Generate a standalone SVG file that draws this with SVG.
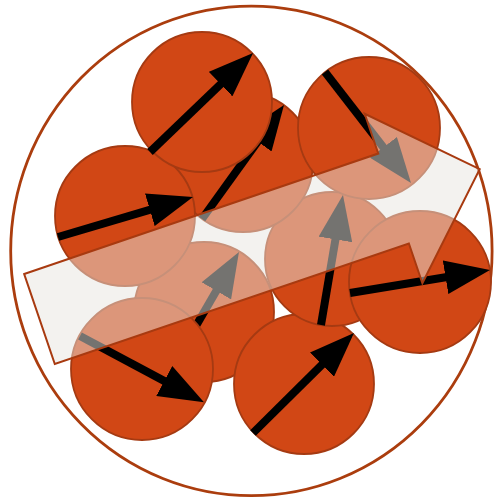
<svg xmlns="http://www.w3.org/2000/svg" width="496" height="499" viewBox="0 0 496 499">
<defs>
<marker id="head" markerUnits="userSpaceOnUse" viewBox="0 0 45 34" markerWidth="45" markerHeight="34" refX="20" refY="17" orient="auto">
<path d="M0,0 L45,17 L0,34 z" fill="#000"/>
</marker>
</defs>
<style>
.ball{fill:#d14715;stroke:#a53a12;stroke-width:1.8}
.arr{stroke:#000;stroke-width:8;fill:none}
.outer{fill:#fff;stroke:#ab3d0e;stroke-width:2.8}
.band{fill:#e8e6e0;fill-opacity:0.5;stroke:#a83a10;stroke-width:2;stroke-linejoin:miter}
</style>
<rect width="496" height="499" fill="#fff"/>
<ellipse class="outer" cx="251.4" cy="250.9" rx="240.7" ry="244.8"/>
<g id="ballF"><circle class="ball" cx="204" cy="312" r="70"/><line class="arr" x1="168.9" y1="372.6" x2="226.4" y2="273.6" marker-end="url(#head)"/></g>
<g id="ballH"><circle class="ball" cx="304" cy="384" r="70"/><line class="arr" x1="253" y1="433" x2="336.2" y2="350.6" marker-end="url(#head)"/></g>
<g id="ballE"><circle class="ball" cx="332" cy="259" r="67"/><line class="arr" x1="321" y1="325" x2="338.8" y2="219.7" marker-end="url(#head)"/></g>
<g id="ballB"><circle class="ball" cx="243" cy="162" r="70"/><line class="arr" x1="202" y1="219" x2="269.4" y2="125.3" marker-end="url(#head)"/></g>
<g id="ballC"><circle class="ball" cx="125" cy="216" r="70"/><line class="arr" x1="58" y1="237" x2="169" y2="204.1" marker-end="url(#head)"/></g>
<g id="ballA"><circle class="ball" cx="202" cy="102" r="70"/><line class="arr" x1="150" y1="152" x2="235" y2="70.3" marker-end="url(#head)"/></g>
<g id="ballD"><circle class="ball" cx="369" cy="128" r="71"/><line class="arr" x1="325" y1="72" x2="395.7" y2="163.2" marker-end="url(#head)"/></g>
<g id="ballG"><circle class="ball" cx="142" cy="369" r="71"/><line class="arr" x1="80" y1="336" x2="181.9" y2="390.4" marker-end="url(#head)"/></g>
<g id="ballI"><circle class="ball" cx="420" cy="282" r="71"/><line class="arr" x1="350" y1="293" x2="465.3" y2="274" marker-end="url(#head)"/></g>
<g id="slice" transform="translate(39.5,319) rotate(-18.8)">
<polygon class="band" points="0,-47.5 374,-47.5 374,-89.5 465,0 374,89.5 374,47.5 0,47.5"/>
</g>
<g id="connectors"/>
</svg>
